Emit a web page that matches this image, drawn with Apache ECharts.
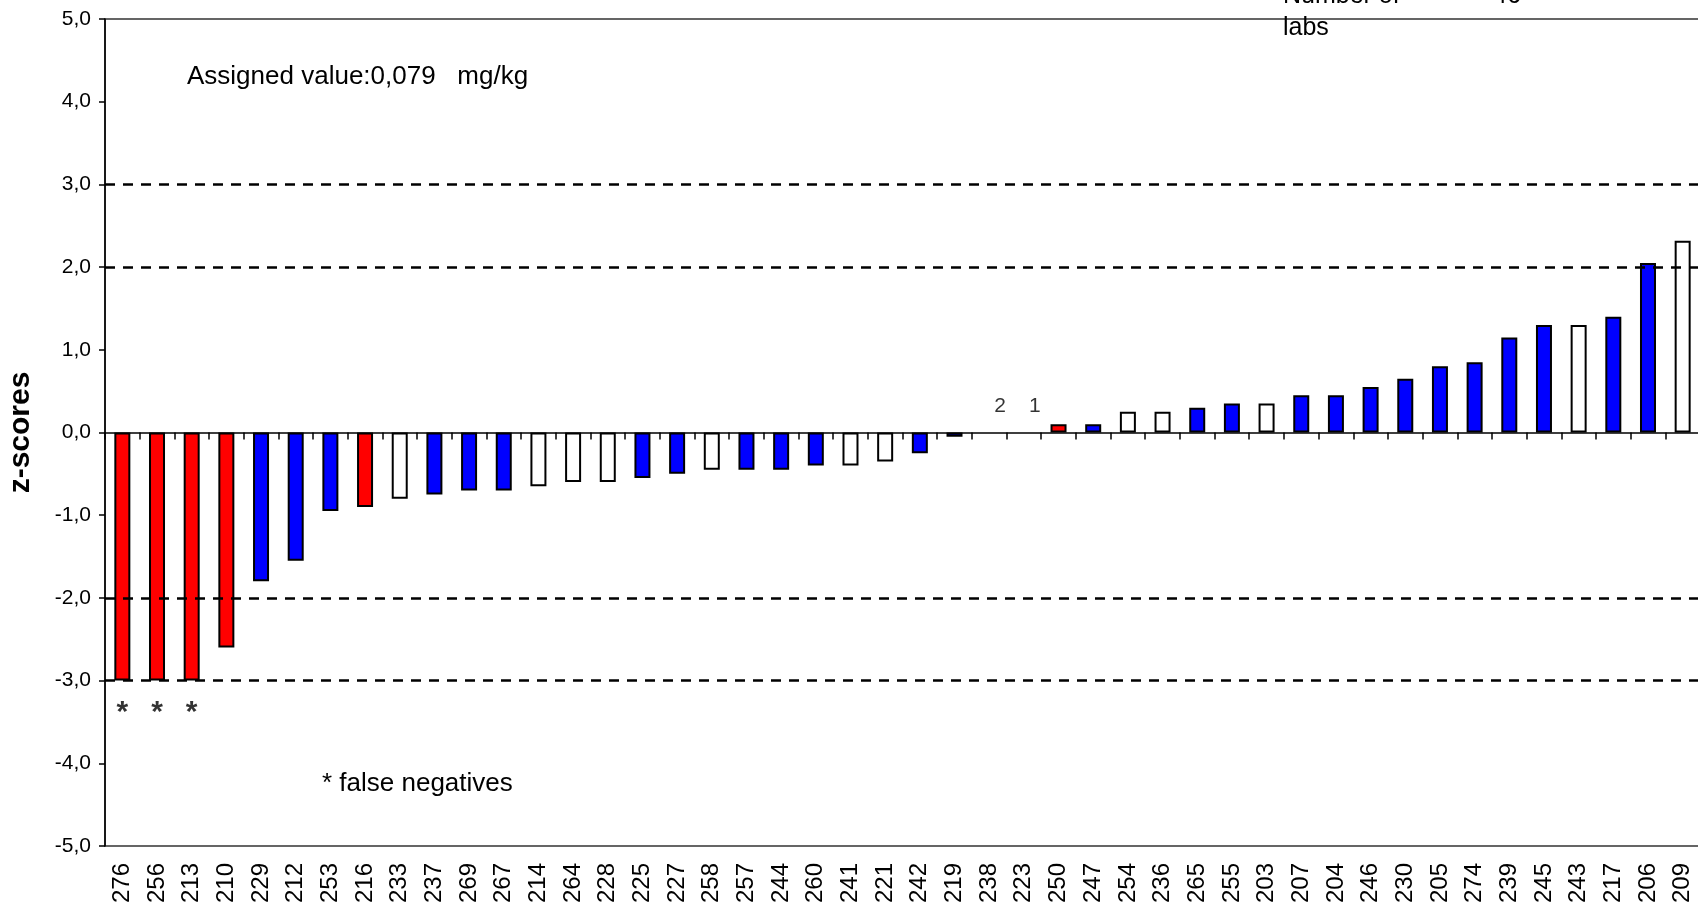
<!DOCTYPE html>
<html>
<head>
<meta charset="utf-8">
<script src="https://cdn.jsdelivr.net/npm/echarts@6/dist/echarts.min.js"></script>
<style>
  html, body { margin: 0; padding: 0; background: #fff; }
  #chart1 { width: 1698px; height: 913px; }
</style>
</head>
<body>
<div id="chart1"></div>
<script>
// lab codes (x axis), sorted by z-score
const labs = ['276','256','213','210','229','212','253','216','233','237','269','267','214','264','228',
  '225','227','258','257','244','260','241','221','242','219','238','223','250','247','254','236',
  '265','255','203','207','204','246','230','205','274','239','245','243','217','206','209'];

// z-scores (null = no bar)
const zScores = [-3.0,-3.0,-3.0,-2.6,-1.8,-1.55,-0.95,-0.9,-0.8,-0.75,-0.7,-0.7,-0.65,-0.6,-0.6,
  -0.55,-0.5,-0.45,-0.45,-0.45,-0.4,-0.4,-0.35,-0.25,-0.05,null,null,0.1,0.1,0.25,0.25,
  0.3,0.35,0.35,0.45,0.45,0.55,0.65,0.8,0.85,1.15,1.3,1.3,1.4,2.05,2.32];

// bar fill: r = red, b = blue, w = white
const fills = ['r','r','r','r','b','b','b','r','w','b','b','b','w','w','w',
  'b','b','w','b','b','b','w','w','b','b','w','w','r','b','w','w',
  'b','b','w','b','b','b','b','b','b','b','b','w','b','b','w'];

const falseNegatives = ['276','256','213'];
const missingNotes = { '238': '2', '223': '1' };
const limitLines = [3, 2, -2, -3];
const yTicks = [-5, 5, 1]; // min, max, step

const fillColor = { r: '#ff0000', b: '#0000ff', w: '#ffffff' };
const FONT = 'Arial, "Liberation Sans", sans-serif';

const chartDiv = document.getElementById('chart1');
const myChart = echarts.init(chartDiv, null, { renderer: 'canvas' });

let barData = zScores.map((v, i) => ({
  value: v,
  itemStyle: { color: fillColor[fills[i]] }
}));

let starData = labs.map(l => falseNegatives.includes(l) ? -3 : null);
let noteData = labs.map(l => missingNotes[l] !== undefined ? 0 : null);

let option = {
  animation: false,
  backgroundColor: '#fff',
  textStyle: { fontFamily: FONT },
  grid: {
    left: 105,
    right: -2,
    top: 19,
    bottom: 67,
    outerBoundsMode: 'none',
    containLabel: false,
    show: true,
    borderColor: '#333',
    borderWidth: 1.5
  },
  xAxis: [
    {
      type: 'category',
      data: labs,
      position: 'bottom',
      axisLine: { show: false, onZero: false },
      axisTick: { show: false },
      axisLabel: {
        interval: 0,
        rotate: 90,
        margin: 17,
        fontSize: 24,
        color: '#000',
        fontFamily: FONT
      }
    },
    {
      type: 'category',
      data: labs,
      position: 'top',
      axisLine: { show: true, onZero: true, lineStyle: { color: '#000', width: 1.5 } },
      axisTick: { show: true, inside: true, length: 7, lineStyle: { color: '#000', width: 1.5 } },
      axisLabel: { show: false }
    }
  ],
  yAxis: {
    type: 'value',
    min: yTicks[0],
    max: yTicks[1],
    interval: yTicks[2],
    name: 'z-scores',
    nameLocation: 'middle',
    nameRotate: 90,
    nameGap: 69,
    nameTextStyle: { fontSize: 30, fontWeight: 'bold', color: '#000', fontFamily: FONT },
    axisLine: { show: true, lineStyle: { color: '#000', width: 1.5 } },
    axisTick: { show: true, length: 6, lineStyle: { color: '#000', width: 1.5 } },
    splitLine: { show: false },
    axisLabel: {
      fontSize: 21,
      color: '#000',
      margin: 14,
      fontFamily: FONT,
      formatter: v => v.toFixed(1).replace('.', ',')
    }
  },
  series: [
    {
      type: 'bar',
      xAxisIndex: 0,
      data: barData,
      barWidth: 16,
      itemStyle: { borderColor: '#000', borderWidth: 2 },
      markLine: {
        silent: true,
        symbol: 'none',
        label: { show: false },
        lineStyle: { color: '#000', width: 2.5, type: [10, 8] },
        data: limitLines.map(y => ({ yAxis: y }))
      },
      z: 3
    },
    {
      type: 'scatter',
      xAxisIndex: 0,
      data: starData,
      symbolSize: 0,
      label: {
        show: true,
        position: 'bottom',
        distance: 17,
        formatter: '*',
        fontSize: 30,
        fontWeight: 'bold',
        color: '#000',
        fontFamily: FONT
      }
    },
    {
      type: 'scatter',
      xAxisIndex: 0,
      data: noteData,
      symbolSize: 0,
      label: {
        show: true,
        position: 'top',
        distance: 16,
        offset: [11, 0],
        formatter: p => missingNotes[labs[p.dataIndex]],
        fontSize: 21,
        color: '#000',
        fontFamily: FONT
      }
    }
  ],
  graphic: [
    {
      type: 'text', left: 187, top: 64,
      style: { text: 'Assigned value:0,079   mg/kg', fontSize: 26, fill: '#000', fontFamily: FONT }
    },
    {
      type: 'text', left: 322, top: 771,
      style: { text: '* false negatives', fontSize: 26, fill: '#000', fontFamily: FONT }
    },
    {
      type: 'text', left: 1283, top: -20,
      style: { text: 'Number of\nlabs', fontSize: 25, lineHeight: 32, fill: '#000', fontFamily: FONT }
    },
    {
      type: 'text', left: 1493, top: -20,
      style: { text: String(labs.length), fontSize: 25, lineHeight: 32, fill: '#000', fontFamily: FONT }
    }
  ]
};

if (option && typeof option === 'object') {
  myChart.setOption(option);
}
</script>
</body>
</html>
